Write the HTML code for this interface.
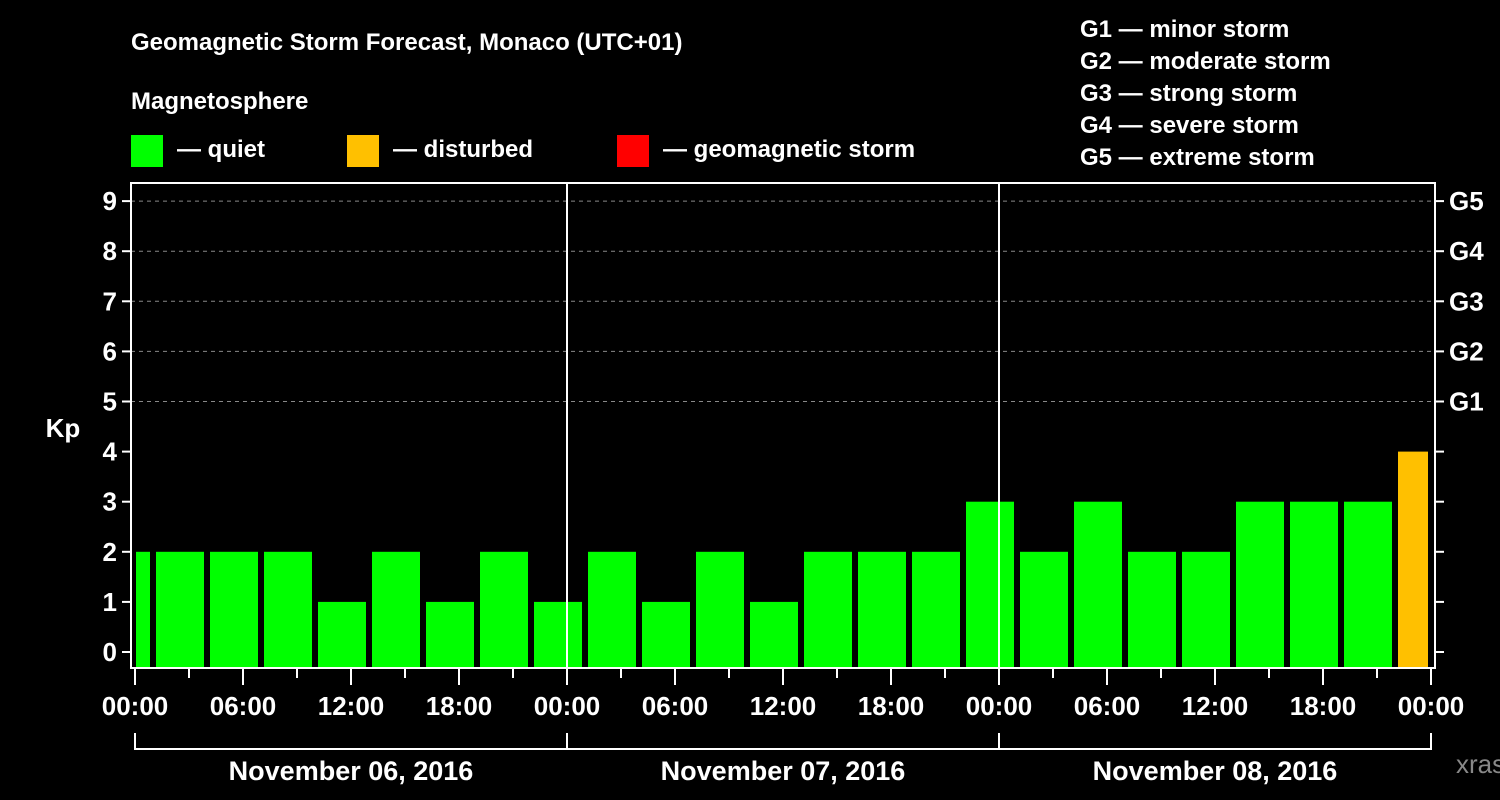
<!DOCTYPE html>
<html><head><meta charset="utf-8"><style>
html,body{margin:0;padding:0;background:#000;}
svg{display:block;font-family:"Liberation Sans",sans-serif;font-weight:bold;}
</style></head><body>
<svg id="chart" width="1500" height="800" viewBox="0 0 1500 800">
<rect width="1500" height="800" fill="#000"/>
<text x="131" y="50" fill="#fff" font-size="24">Geomagnetic Storm Forecast, Monaco (UTC+01)</text>
<text x="131" y="109" fill="#fff" font-size="24">Magnetosphere</text>
<g><rect x="131" y="135" width="32" height="32" fill="#00ff00"/><text x="177" y="157" fill="#fff" font-size="24">— quiet</text></g>
<g><rect x="347" y="135" width="32" height="32" fill="#ffc000"/><text x="393" y="157" fill="#fff" font-size="24">— disturbed</text></g>
<g><rect x="617" y="135" width="32" height="32" fill="#ff0000"/><text x="663" y="157" fill="#fff" font-size="24">— geomagnetic storm</text></g>
<g fill="#fff" font-size="24">
<text x="1080" y="37">G1 — minor storm</text>
<text x="1080" y="69">G2 — moderate storm</text>
<text x="1080" y="101">G3 — strong storm</text>
<text x="1080" y="133">G4 — severe storm</text>
<text x="1080" y="165">G5 — extreme storm</text>
</g>
<text x="63" y="437" fill="#fff" font-size="26" text-anchor="middle">Kp</text>
<text x="1456" y="773" fill="#888" font-size="26" font-weight="normal">xras.ru</text>
<g id="grid"></g><g id="bars"></g><g id="axes"></g>
</svg>
<script>
const kpValues=[2,2,2,2,1,2,1,2,1,2,1,2,1,2,2,2,3,2,3,2,2,3,3,3,4];
const yTickLabels=["0","1","2","3","4","5","6","7","8","9"];
const gLabels=["G1","G2","G3","G4","G5"];
const xTickLabels=["00:00","06:00","12:00","18:00","00:00","06:00","12:00","18:00","00:00","06:00","12:00","18:00","00:00"];
const dateLabels=["November 06, 2016","November 07, 2016","November 08, 2016"];
const NS="http://www.w3.org/2000/svg";
const X0=135,PXH=18,Y0=652,PXK=50.1,TOP=183,BOT=668,LEFT=131,RIGHT=1435;
const xs=h=>X0+h*PXH, ys=k=>Y0-k*PXK;
function mk(p,tag,a){const e=document.createElementNS(NS,tag);for(const k in a)e.setAttribute(k,a[k]);p.appendChild(e);return e;}
const grid=document.getElementById('grid'),bars=document.getElementById('bars'),axes=document.getElementById('axes');
for(let k=5;k<=9;k++){const l=mk(grid,'line',{x1:LEFT,x2:RIGHT,y1:ys(k),y2:ys(k),stroke:'#888','stroke-dasharray':'4,4','stroke-width':1});

}
kpValues.forEach((v,i)=>{
  let h0=i*3-2,h1=i*3+1;
  let x0=Math.max(xs(h0)+3,X0+1),x1=Math.min(xs(h1)-3,xs(72)-3);
  const c=v>=5?'#ff0000':(v>=4?'#ffc000':'#00ff00');
  const r=mk(bars,'rect',{x:x0,y:ys(v),width:x1-x0,height:BOT-ys(v),fill:c});
  
  
});
for(let d=1;d<3;d++){const l=mk(axes,'line',{x1:xs(d*24),x2:xs(d*24),y1:TOP,y2:BOT,stroke:'#fff','stroke-width':2});

}
const fr=mk(axes,'rect',{x:LEFT,y:TOP,width:RIGHT-LEFT,height:BOT-TOP,fill:'none',stroke:'#fff','stroke-width':2});


yTickLabels.forEach((t,k)=>{
  mk(axes,'line',{x1:LEFT-9,x2:LEFT,y1:ys(k),y2:ys(k),stroke:'#fff','stroke-width':2});
  mk(axes,'line',{x1:RIGHT,x2:RIGHT+9,y1:ys(k),y2:ys(k),stroke:'#fff','stroke-width':2});
  const tx=mk(axes,'text',{x:LEFT-14,y:ys(k)+9,fill:'#fff','font-size':26,'text-anchor':'end'});tx.textContent=t;
  
  
});
gLabels.forEach((t,i)=>{const tx=mk(axes,'text',{x:RIGHT+14,y:ys(5+i)+9,fill:'#fff','font-size':26});tx.textContent=t;
  
  });
for(let h=0;h<=72;h+=3){const major=h%6===0;
  mk(axes,'line',{x1:xs(h),x2:xs(h),y1:BOT,y2:major?685:678,stroke:'#fff','stroke-width':2});}
xTickLabels.forEach((t,i)=>{const tx=mk(axes,'text',{x:xs(i*6),y:715,fill:'#fff','font-size':26,'text-anchor':'middle'});tx.textContent=t;
  
  });
mk(axes,'line',{x1:xs(0),x2:xs(72),y1:749,y2:749,stroke:'#fff','stroke-width':2});
for(let d=0;d<=3;d++)mk(axes,'line',{x1:xs(d*24),x2:xs(d*24),y1:733,y2:750,stroke:'#fff','stroke-width':2});
dateLabels.forEach((t,i)=>{const tx=mk(axes,'text',{x:xs(i*24+12),y:780,fill:'#fff','font-size':27,'text-anchor':'middle'});tx.textContent=t;
  
  });
</script>
</body></html>
